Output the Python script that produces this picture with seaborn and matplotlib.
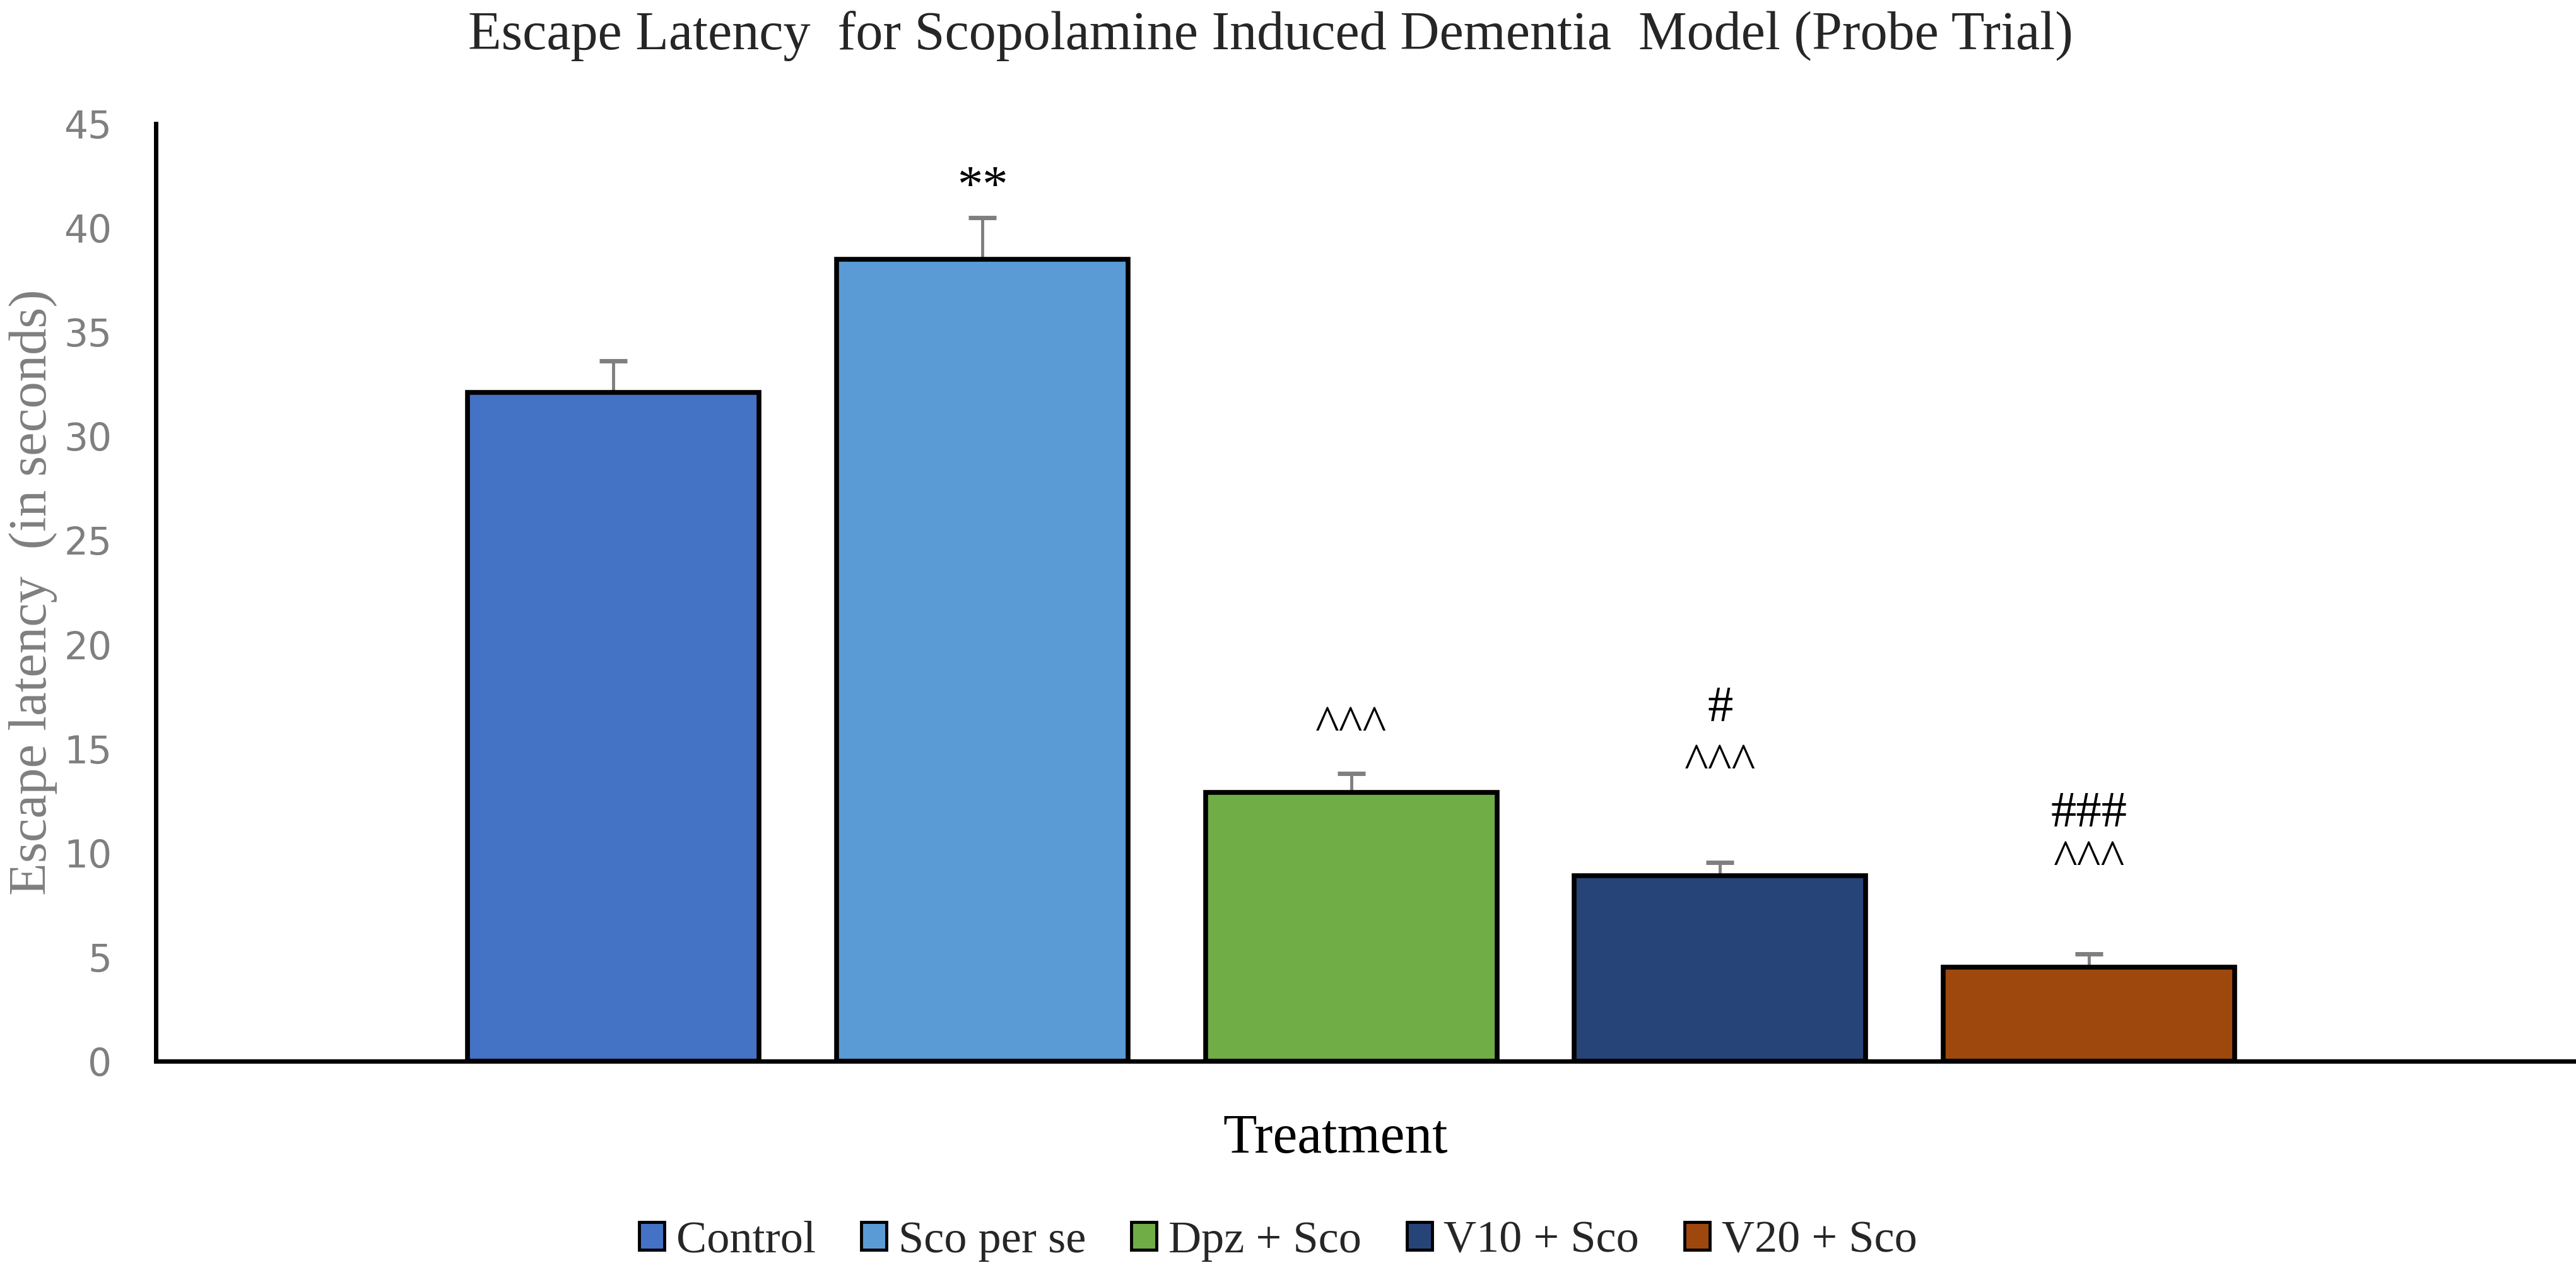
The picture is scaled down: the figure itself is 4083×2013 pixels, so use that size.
import numpy as np
import pandas as pd
import matplotlib
matplotlib.use("Agg")
import matplotlib.pyplot as plt
from matplotlib.patches import Patch
import seaborn as sns

# ---------------- data ----------------
categories = ["Control", "Sco per se", "Dpz + Sco", "V10 + Sco", "V20 + Sco"]
means = [32.1, 38.5, 12.9, 8.9, 4.5]
sems = [1.5, 2.0, 0.9, 0.65, 0.65]
colors = ["#4472C4", "#5B9BD5", "#70AD47", "#264478", "#9E480E"]
yticks = [0, 5, 10, 15, 20, 25, 30, 35, 40, 45]
sig_texts = ["**", "^^^", "#", "^^^", "###", "^^^"]
sig_bars = [1, 2, 3, 3, 4, 4]

title = "Escape Latency  for Scopolamine Induced Dementia  Model (Probe Trial)"
ylabel = "Escape latency  (in seconds)"
xlabel = "Treatment"

# ---------------- layout ----------------
sig_y = [42.45, 16.6, 17.15, 14.8, 12.1, 10.15]
W, H = 4083, 2013
GRAY = "#7F7F7F"

sns.set_theme(style="white")
plt.rcParams["font.family"] = ["Liberation Serif", "DejaVu Serif"]

fig, ax = plt.subplots(figsize=(W / 100, H / 100), dpi=100)
fig.subplots_adjust(left=247 / W, right=1.0, bottom=1 - 1682 / H, top=1 - 196 / H)

df = pd.DataFrame({"Treatment": categories, "Latency": means})
sns.barplot(data=df, x="Treatment", y="Latency", hue="Treatment",
            order=categories, hue_order=categories, palette=colors,
            saturation=1, width=0.79, dodge=False, edgecolor="black",
            linewidth=5.5, errorbar=None, legend=False, ax=ax, zorder=2)

eb = ax.errorbar(np.arange(len(means)), means,
                 yerr=[np.zeros(len(sems)), sems], fmt="none",
                 ecolor=GRAY, elinewidth=3.5, capsize=16, capthick=5, zorder=1)
# hide lower caps (plus-only error bars)
eb.lines[1][0].set_visible(False)

# significance marks
offsets = {"*": 0.47, "^": 0.49, "#": 0.34}
for txt, b, yv in zip(sig_texts, sig_bars, sig_y):
    fs = 58
    ax.annotate(txt, xy=(b, yv), xytext=(0, -offsets[txt[0]] * fs),
                textcoords="offset points", ha="center", va="baseline",
                fontsize=fs, color="black")

ax.set_xlim(-1.24, 5.32)
ax.set_ylim(0, 45)
ax.set_yticks(yticks)
ax.set_yticklabels([str(t) for t in yticks])
for lab in ax.get_yticklabels():
    lab.set_fontfamily("DejaVu Sans")
ax.tick_params(axis="y", length=0, pad=50, labelsize=43, labelcolor=GRAY)
ax.set_xticks([])

for s in ["top", "right"]:
    ax.spines[s].set_visible(False)
for s in ["left", "bottom"]:
    ax.spines[s].set_linewidth(5)
    ax.spines[s].set_color("black")

ax.set_ylabel(ylabel, fontsize=61, color=GRAY)
ax.yaxis.label.set_va("center")
ax.yaxis.set_label_coords((52 - 247) / (W - 247), 0.5)

ax.set_xlabel(xlabel, fontsize=63, color="black")
ax.xaxis.label.set_va("center")
ax.xaxis.set_label_coords((2117 - 247) / (W - 247), (1682 - 1805) / (1682 - 196))

fig.text(2014 / W, 1 - 57 / H, title, ha="center", va="center", fontsize=62)

handles = [Patch(facecolor=c, edgecolor="black", linewidth=3.5) for c in colors]
fig.legend(handles, categories, loc="center", bbox_to_anchor=(2026 / W, 1 - 1967 / H),
           ncol=5, frameon=False, fontsize=52, handlelength=0.55, handleheight=0.55,
           handletextpad=0.26, columnspacing=1.0, borderaxespad=0, borderpad=0)

fig.savefig("out.png", dpi=100)
